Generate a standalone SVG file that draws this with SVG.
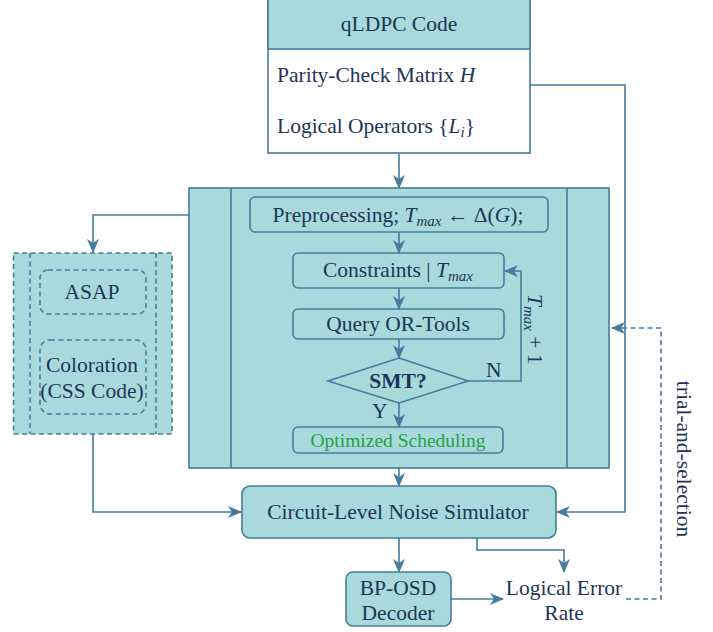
<svg xmlns="http://www.w3.org/2000/svg" width="713" height="632" viewBox="0 0 713 632">
<defs>
<style>
.box{fill:#A8DADC;stroke:#457B9D;stroke-width:1.6}
.wbox{fill:#FFFFFF;stroke:#457B9D;stroke-width:1.6}
.dash{fill:#A8DADC;stroke:#457B9D;stroke-width:1.6;stroke-dasharray:5,3.5}
.dline{fill:none;stroke:#457B9D;stroke-width:1.6;stroke-dasharray:5,3.5}
.ln{fill:none;stroke:#457B9D;stroke-width:1.6}
.arr{fill:none;stroke:#457B9D;stroke-width:1.6;marker-end:url(#ah)}
.t{font-size:21.5px;fill:#1D3557}
.c{text-anchor:middle}
.m{font-style:italic}
.s{font-style:italic;font-size:15px}
.g{fill:#2A9D48;font-size:19.5px}
.b{font-weight:bold}
</style>
<marker id="ah" viewBox="0 0 14 12" refX="13" refY="6" markerWidth="14" markerHeight="12" markerUnits="userSpaceOnUse" orient="auto">
<path d="M0,0 L14,6 L0,12 L4,6 Z" fill="#457B9D"/>
</marker>
</defs>

<g id="connectors">
<path class="arr" d="M399,154 V188"/>
<path class="arr" d="M530,85 H625 V512 H557"/>
<path class="arr" d="M250,215 H93 V252"/>
<path class="arr" d="M93,434 V512 H241"/>
<path class="arr" d="M399,468 V486"/>
<path class="arr" d="M399,538 V572"/>
<path class="arr" d="M477,538 V550 H564 V572"/>
<path class="arr" d="M451,599 H503"/>
<path class="dline" d="M626,599 H661 V328 H622"/>
<path class="ln" d="M622,328 H612" style="marker-end:url(#ah)"/>
</g>

<g font-family="Liberation Serif, Tinos, Times New Roman, DejaVu Serif, serif">
<g id="qldpc">
<rect class="wbox" x="268" y="-2" width="262" height="155"/>
<rect class="box" x="268" y="-2" width="262" height="51"/>
<text class="t c" x="399" y="31">qLDPC Code</text>
<text class="t" x="277" y="82">Parity-Check Matrix <tspan class="m">H</tspan></text>
<text class="t" x="277" y="133">Logical Operators {<tspan class="m">L</tspan><tspan class="s" dy="4">i</tspan><tspan dy="-4">}</tspan></text>
</g>

<g id="scheduler">
<rect class="box" x="189" y="188" width="420" height="280"/>
<path class="ln" d="M231,188 V468 M567,188 V468"/>
</g>

<g id="preprocessing">
<rect class="box" x="250" y="197" width="298" height="35" rx="5"/>
<text class="t c" x="398" y="222">Preprocessing; <tspan class="m">T</tspan><tspan class="s" dy="4">max</tspan><tspan dy="-4"> ← Δ(</tspan><tspan class="m">G</tspan>);</text>
</g>

<g id="constraints">
<rect class="box" x="293" y="253" width="211" height="35" rx="5"/>
<text class="t c" x="398" y="277">Constraints | <tspan class="m">T</tspan><tspan class="s" dy="4">max</tspan></text>
</g>
<path class="arr" d="M399,232 V253"/>

<g id="query">
<rect class="box" x="293" y="309" width="211" height="30" rx="5"/>
<text class="t c" x="398" y="331">Query OR-Tools</text>
</g>
<path class="arr" d="M399,288 V309"/>
<path class="arr" d="M399,339 V358"/>

<g id="smt">
<polygon class="box" points="399,358 468,381 399,403 328,381"/>
<text class="t c b" x="398" y="388">SMT?</text>
</g>
<path class="arr" d="M468,381 H521 V271 H505"/>
<text class="t" x="486" y="377">N</text>
<text class="t" x="372" y="418">Y</text>
<text class="t" transform="translate(528,294) rotate(90)"><tspan class="m">T</tspan><tspan class="s" dy="4">max</tspan><tspan dy="-4"> + 1</tspan></text>
<path class="arr" d="M399,403 V427"/>

<g id="optimized">
<rect class="box" x="293" y="427" width="210" height="26" rx="5"/>
<text class="t c g" x="398" y="447">Optimized Scheduling</text>
</g>

<g id="baselines">
<rect class="dash" x="13.5" y="253" width="158.5" height="181"/>
<path class="dline" d="M30,253 V434 M156,253 V434"/>
<rect class="dash" x="40" y="270" width="106" height="44" rx="8"/>
<text class="t c" x="92" y="299">ASAP</text>
<rect class="dash" x="40" y="340" width="106" height="74" rx="10"/>
<text class="t c" x="92" y="372">Coloration</text>
<text class="t c" x="92" y="398">(CSS Code)</text>
</g>

<g id="simulator">
<rect class="box" x="242" y="486" width="314" height="52" rx="8"/>
<text class="t c" x="398" y="519">Circuit-Level Noise Simulator</text>
</g>

<g id="decoder">
<rect class="box" x="346" y="572" width="105" height="54" rx="7"/>
<text class="t c" x="398" y="595">BP-OSD</text>
<text class="t c" x="398" y="620">Decoder</text>
</g>

<g id="ler">
<text class="t c" x="564" y="595">Logical Error</text>
<text class="t c" x="564" y="620">Rate</text>
</g>

<text class="t c" transform="translate(677,459) rotate(90)">trial-and-selection</text>
</g>
</svg>
